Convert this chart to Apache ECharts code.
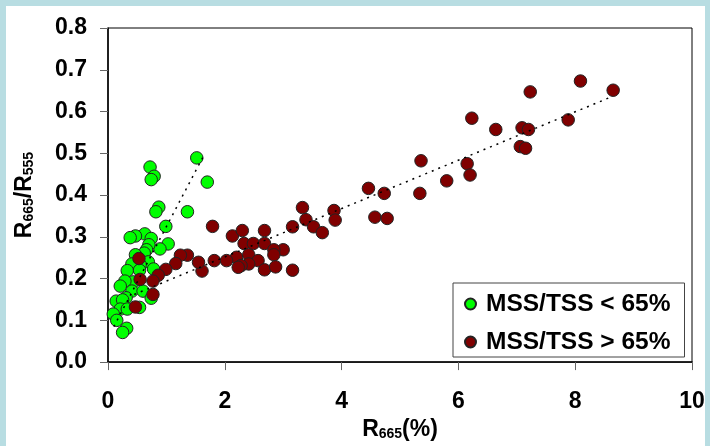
<!DOCTYPE html>
<html><head><meta charset="utf-8">
<script src="https://cdn.jsdelivr.net/npm/echarts@6/dist/echarts.min.js"></script>
<style>html,body{margin:0;padding:0;background:#b8dde2;}#c{width:710px;height:446px;}</style>
</head><body><div id="c"></div>
<script>
// ---- data ----
var greenX = [1.52,1.70,0.72,0.79,0.74,0.87,0.82,1.36,0.99,1.03,0.89,0.63,0.74,0.47,0.38,0.70,0.66,0.62,0.47,0.69,0.55,0.41,0.78,0.33,0.54,0.43,0.29,0.21,0.41,0.60,0.31,0.14,0.25,0.21,0.33,0.54,0.74,0.09,0.15,0.32,0.25];
var greenY = [0.489,0.431,0.467,0.445,0.437,0.371,0.360,0.360,0.325,0.283,0.271,0.307,0.296,0.302,0.298,0.281,0.269,0.261,0.257,0.240,0.233,0.235,0.223,0.219,0.220,0.192,0.194,0.182,0.170,0.170,0.154,0.146,0.149,0.127,0.127,0.131,0.153,0.115,0.100,0.081,0.071];
var redX = [8.09,8.65,7.23,6.23,6.64,7.09,7.20,7.88,7.06,7.15,6.15,6.20,5.80,5.36,4.46,4.73,5.34,3.33,3.39,3.16,3.52,3.67,3.87,3.89,4.57,4.78,3.00,3.16,1.79,2.13,2.30,2.68,2.33,2.49,2.68,2.84,2.84,2.41,2.20,2.57,2.41,2.28,2.23,2.68,2.87,2.03,1.82,1.61,1.55,1.36,1.24,1.16,0.99,0.86,0.77,0.77,0.55,0.53,0.47];
var redY = [0.673,0.651,0.647,0.584,0.557,0.561,0.557,0.580,0.516,0.512,0.475,0.448,0.434,0.482,0.416,0.404,0.404,0.370,0.341,0.324,0.324,0.310,0.363,0.340,0.347,0.344,0.269,0.220,0.325,0.302,0.315,0.315,0.284,0.284,0.284,0.269,0.257,0.257,0.251,0.243,0.235,0.231,0.227,0.221,0.228,0.243,0.243,0.218,0.239,0.256,0.256,0.236,0.222,0.208,0.194,0.162,0.198,0.248,0.132];
var greenTrendX = [0.10, 1.66];
var greenTrendY = [0.085, 0.500];
var redTrendX = [0.45, 8.60];
var redTrendY = [0.162, 0.634];
var seriesNames = ['MSS/TSS < 65%', 'MSS/TSS > 65%'];
var xTicks = {min: 0, max: 10, interval: 2};
var yTicks = {min: 0, max: 0.8, interval: 0.1};

function zip(a, b) { return a.map(function (v, i) { return [v, b[i]]; }); }

var FONT = '"Liberation Sans", Arial, sans-serif';
var richTitle = {
  a: {fontFamily: FONT, fontWeight: 'bold', fontSize: 23, color: '#000'},
  b: {fontFamily: FONT, fontWeight: 'bold', fontSize: 14, color: '#000', verticalAlign: 'bottom', padding: [9, 0, 0, 0]}
};
var chart = echarts.init(document.getElementById('c'), null, {renderer: 'canvas'});
chart.setOption({
  backgroundColor: '#b8dde2',
  animation: false,
  graphic: [{type: 'rect', z: -10, silent: true, shape: {x: 6, y: 6, width: 699, height: 440}, style: {fill: '#ffffff'}}],
  grid: {left: 108, top: 28, right: 18, bottom: 81, show: true, borderColor: '#000', borderWidth: 1, backgroundColor: 'transparent'},
  legend: {
    orient: 'vertical', left: 453, top: 283,
    data: seriesNames,
    backgroundColor: '#fff', borderColor: '#444', borderWidth: 1,
    padding: [7, 14, 1, 11], itemGap: 10, itemWidth: 11, itemHeight: 11,
    icon: 'circle',
    textStyle: {fontFamily: FONT, fontWeight: 'bold', fontSize: 24.5, color: '#000', lineHeight: 28, padding: [0, 0, 0, 5]}
  },
  xAxis: {
    type: 'value', min: xTicks.min, max: xTicks.max, interval: xTicks.interval,
    name: '{a|R}{b|665}{a|(%)}', nameLocation: 'middle', nameGap: 40,
    nameTextStyle: {rich: richTitle},
    axisLine: {lineStyle: {color: '#000', width: 1.5}},
    axisTick: {length: 8, lineStyle: {color: '#666', width: 1}},
    splitLine: {show: false},
    axisLabel: {fontFamily: FONT, fontWeight: 'bold', fontSize: 23, color: '#000', margin: 28}
  },
  yAxis: {
    type: 'value', min: yTicks.min, max: yTicks.max, interval: yTicks.interval,
    name: '{a|R}{b|665}{a|/R}{b|555}', nameLocation: 'middle', nameGap: 72, nameRotate: 90,
    nameTextStyle: {rich: richTitle},
    axisLine: {lineStyle: {color: '#000', width: 1.5}},
    axisTick: {length: 8, lineStyle: {color: '#666', width: 1}},
    splitLine: {show: false},
    axisLabel: {fontFamily: FONT, fontWeight: 'bold', fontSize: 23, color: '#000', margin: 21, formatter: function (v) { return v.toFixed(1); }}
  },
  series: [
    {name: seriesNames[0], type: 'scatter', data: zip(greenX, greenY), symbol: 'circle', symbolSize: 12.5, z: 2,
     itemStyle: {color: '#00ff00', borderColor: '#222', borderWidth: 1, opacity: 1}},
    {name: seriesNames[1], type: 'scatter', data: zip(redX, redY), symbol: 'circle', symbolSize: 12.5, z: 3,
     itemStyle: {color: '#800000', borderColor: '#222', borderWidth: 1, opacity: 1}},
    {name: 'gtrend', type: 'line', data: zip(greenTrendX, greenTrendY), symbol: 'none', z: 5, silent: true,
     lineStyle: {color: '#000', width: 1.5, type: [2, 5]}},
    {name: 'rtrend', type: 'line', data: zip(redTrendX, redTrendY), symbol: 'none', z: 5, silent: true,
     lineStyle: {color: '#000', width: 1.5, type: [2, 5]}}
  ]
});
</script></body></html>
